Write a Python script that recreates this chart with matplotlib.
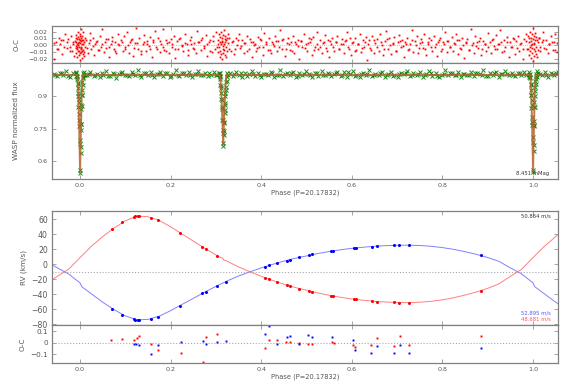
import numpy as np
import matplotlib
matplotlib.use('Agg')
import matplotlib.pyplot as plt

# ---- light curve residuals (O-C), phase / residual flux ----
oc_phase = [
    -0.058, -0.054, -0.051, -0.047, -0.044, -0.040, -0.037, -0.033, -0.029, -0.026,
    -0.023, -0.020, -0.017, -0.015, -0.013, 0.014, 0.017, 0.019, 0.022, 0.025,
    0.028, 0.031, 0.034, 0.037, 0.040, 0.043, 0.046, 0.049, 0.052, 0.055,
    0.058, 0.061, 0.064, 0.068, 0.071, 0.074, 0.077, 0.080, 0.084, 0.087,
    0.090, 0.094, 0.097, 0.100, 0.104, 0.107, 0.110, 0.114, 0.117, 0.121,
    0.124, 0.128, 0.131, 0.134, 0.138, 0.141, 0.145, 0.148, 0.152, 0.155,
    0.159, 0.162, 0.165, 0.169, 0.172, 0.176, 0.179, 0.183, 0.186, 0.190,
    0.193, 0.196, 0.200, 0.203, 0.207, 0.210, 0.214, 0.217, 0.221, 0.224,
    0.228, 0.231, 0.235, 0.238, 0.242, 0.245, 0.249, 0.252, 0.256, 0.259,
    0.263, 0.266, 0.270, 0.273, 0.277, 0.280, 0.284, 0.287, 0.291, 0.294,
    0.298, 0.301, 0.305, 0.333, 0.337, 0.340, 0.344, 0.347, 0.351, 0.354,
    0.358, 0.361, 0.365, 0.368, 0.372, 0.375, 0.379, 0.382, 0.386, 0.389,
    0.393, 0.396, 0.400, 0.403, 0.407, 0.410, 0.414, 0.417, 0.421, 0.424,
    0.428, 0.431, 0.435, 0.438, 0.442, 0.445, 0.449, 0.452, 0.456, 0.459,
    0.463, 0.466, 0.470, 0.473, 0.477, 0.480, 0.484, 0.487, 0.491, 0.494,
    0.498, 0.501, 0.505, 0.508, 0.512, 0.515, 0.519, 0.522, 0.526, 0.529,
    0.533, 0.536, 0.540, 0.543, 0.547, 0.550, 0.554, 0.557, 0.561, 0.564,
    0.568, 0.571, 0.575, 0.578, 0.582, 0.585, 0.589, 0.592, 0.596, 0.599,
    0.603, 0.606, 0.610, 0.613, 0.617, 0.620, 0.624, 0.627, 0.631, 0.634,
    0.638, 0.641, 0.645, 0.648, 0.652, 0.655, 0.659, 0.662, 0.666, 0.669,
    0.673, 0.676, 0.680, 0.683, 0.687, 0.690, 0.694, 0.697, 0.701, 0.704,
    0.708, 0.711, 0.715, 0.718, 0.722, 0.725, 0.729, 0.732, 0.736, 0.739,
    0.743, 0.746, 0.750, 0.753, 0.757, 0.760, 0.764, 0.767, 0.771, 0.774,
    0.778, 0.781, 0.785, 0.788, 0.792, 0.795, 0.799, 0.802, 0.806, 0.809,
    0.813, 0.816, 0.820, 0.823, 0.827, 0.830, 0.834, 0.837, 0.841, 0.844,
    0.848, 0.851, 0.855, 0.858, 0.862, 0.865, 0.869, 0.872, 0.876, 0.879,
    0.883, 0.886, 0.890, 0.893, 0.897, 0.900, 0.904, 0.907, 0.911, 0.914,
    0.918, 0.921, 0.925, 0.928, 0.932, 0.935, 0.939, 0.942, 0.946, 0.949,
    0.953, 0.956, 0.960, 0.963, 0.967, 0.970, 0.974, 0.977, 0.981, 0.984,
    0.987, 1.013, 1.016, 1.019, 1.022, 1.025, 1.029, 1.032, 1.036, 1.040,
    1.043, 1.046, 1.049, 1.052,
]
oc_resid = [
    -0.021, 0.004, -0.006, 0.011, 0.002, -0.013, 0.007, 0.016, -0.004, 0.009,
    -0.002, 0.013, -0.009, 0.005, -0.016, 0.008, -0.011, 0.003, 0.018, -0.005,
    0.010, -0.014, 0.001, 0.006, -0.007, 0.014, -0.002, 0.024, -0.010, 0.004,
    -0.004, 0.009, -0.018, 0.002, 0.012, -0.006, 0.005, -0.012, 0.017, 0.000,
    0.007, -0.008, 0.013, -0.003, 0.020, -0.011, 0.004, 0.009, -0.016, 0.003,
    0.025, -0.006, 0.011, -0.013, 0.002, 0.015, -0.009, 0.006, -0.001, 0.012,
    -0.017, 0.004, 0.021, -0.005, 0.010, -0.010, 0.001, 0.024, -0.007, 0.008,
    0.003, -0.012, 0.009, -0.002, 0.014, -0.019, 0.006, -0.006, 0.011, 0.000,
    -0.009, 0.017, 0.002, -0.014, 0.007, 0.012, -0.004, 0.003, -0.011, 0.021,
    0.005, -0.007, 0.010, -0.001, 0.015, -0.016, 0.004, 0.008, -0.010, 0.013,
    -0.005, 0.019, 0.002, -0.008, 0.006, -0.013, 0.011, 0.000, 0.016, -0.004,
    0.008, -0.011, 0.003, 0.013, -0.006, 0.009, -0.018, 0.004, 0.001, -0.009,
    0.012, -0.003, 0.007, -0.014, 0.018, 0.002, -0.007, 0.010, -0.012, 0.005,
    -0.001, 0.014, -0.009, 0.006, 0.023, -0.005, 0.009, -0.016, 0.003, 0.011,
    -0.007, 0.004, 0.013, -0.011, 0.001, 0.008, -0.020, 0.006, -0.003, 0.016,
    0.002, -0.009, 0.010, 0.005, -0.014, 0.012, -0.002, 0.019, -0.006, 0.007,
    -0.011, 0.003, 0.015, -0.004, 0.008, -0.017, 0.001, 0.011, -0.008, 0.004,
    0.013, -0.006, 0.002, 0.009, -0.012, 0.006, 0.020, -0.003, 0.010, -0.015,
    0.004, 0.011, -0.007, 0.001, 0.016, -0.010, 0.007, -0.002, 0.012, -0.022,
    0.008, -0.004, 0.014, -0.012, 0.003, 0.009, -0.008, 0.017, 0.000, -0.015,
    0.006, 0.021, -0.005, 0.010, -0.013, 0.002, 0.012, -0.009, 0.005, 0.015,
    -0.003, 0.008, -0.018, 0.004, 0.011, -0.007, 0.001, 0.023, -0.010, 0.006,
    0.013, -0.011, 0.003, 0.009, -0.004, 0.017, -0.014, 0.005, 0.010, -0.002,
    -0.008, 0.014, 0.002, -0.016, 0.007, 0.011, -0.005, 0.004, 0.020, -0.010,
    0.006, -0.003, 0.012, -0.009, 0.001, 0.016, -0.013, 0.008, -0.006, 0.010,
    -0.019, 0.003, 0.009, -0.007, 0.024, 0.000, -0.011, 0.013, 0.005, -0.004,
    0.011, -0.015, 0.006, 0.002, -0.008, 0.018, 0.004, -0.012, 0.009, -0.001,
    0.015, -0.006, 0.001, 0.022, -0.010, 0.007, -0.003, 0.012, -0.017, 0.005,
    -0.002, 0.010, -0.013, 0.006, 0.014, -0.008, 0.003, -0.021, 0.009, 0.016,
    -0.006, 0.011, -0.009, 0.004, 0.019, -0.004, 0.008, -0.012, 0.002, 0.013,
    -0.007, 0.005, 0.016, -0.010,
]
# a second, tighter layer of residuals around zero
oc2_phase = [
    -0.0565, -0.0495, -0.0425, -0.0355, -0.0285, -0.0215, -0.0145, 0.0155, 0.0215, 0.0285,
    0.0355, 0.0425, 0.0495, 0.0565, 0.0635, 0.0705, 0.0775, 0.0845, 0.0915, 0.0985,
    0.1055, 0.1125, 0.1195, 0.1265, 0.1335, 0.1405, 0.1475, 0.1545, 0.1615, 0.1685,
    0.1755, 0.1825, 0.1895, 0.1965, 0.2035, 0.2105, 0.2175, 0.2245, 0.2315, 0.2385,
    0.2455, 0.2525, 0.2595, 0.2665, 0.2735, 0.2805, 0.2875, 0.2945, 0.3015, 0.3345,
    0.3415, 0.3485, 0.3555, 0.3625, 0.3695, 0.3765, 0.3835, 0.3905, 0.3975, 0.4045,
    0.4115, 0.4185, 0.4255, 0.4325, 0.4395, 0.4465, 0.4535, 0.4605, 0.4675, 0.4745,
    0.4815, 0.4885, 0.4955, 0.5025, 0.5095, 0.5165, 0.5235, 0.5305, 0.5375, 0.5445,
    0.5515, 0.5585, 0.5655, 0.5725, 0.5795, 0.5865, 0.5935, 0.6005, 0.6075, 0.6145,
    0.6215, 0.6285, 0.6355, 0.6425, 0.6495, 0.6565, 0.6635, 0.6705, 0.6775, 0.6845,
    0.6915, 0.6985, 0.7055, 0.7125, 0.7195, 0.7265, 0.7335, 0.7405, 0.7475, 0.7545,
    0.7615, 0.7685, 0.7755, 0.7825, 0.7895, 0.7965, 0.8035, 0.8105, 0.8175, 0.8245,
    0.8315, 0.8385, 0.8455, 0.8525, 0.8595, 0.8665, 0.8735, 0.8805, 0.8875, 0.8945,
    0.9015, 0.9085, 0.9155, 0.9225, 0.9295, 0.9365, 0.9435, 0.9505, 0.9575, 0.9645,
    0.9715, 0.9785, 0.9855, 1.0145, 1.0215, 1.0285, 1.0355, 1.0425, 1.0495, 1.0535,
]
oc2_resid = [
    0.003, -0.006, 0.008, -0.002, 0.005, -0.009, 0.001, -0.004, 0.007, -0.001,
    0.004, -0.007, 0.002, 0.009, -0.003, 0.006, -0.008, 0.001, 0.005, -0.005,
    0.000, 0.007, -0.004, 0.003, -0.009, 0.005, 0.002, -0.006, 0.008, -0.002,
    0.006, -0.003, -0.008, 0.004, 0.001, -0.005, 0.009, -0.001, 0.003, -0.007,
    0.002, -0.006, 0.005, 0.008, -0.004, 0.001, -0.009, 0.006, -0.002, 0.004,
    -0.005, 0.007, -0.001, 0.003, -0.008, 0.005, 0.000, -0.004, 0.009, -0.002,
    0.004, -0.007, 0.002, 0.006, -0.003, 0.008, -0.006, 0.001, -0.009, 0.005,
    -0.001, 0.006, -0.004, 0.003, 0.009, -0.007, 0.002, -0.003, 0.005, -0.008,
    0.006, -0.002, 0.004, -0.006, 0.001, 0.008, -0.005, 0.003, -0.009, 0.002,
    -0.004, 0.005, 0.001, -0.007, 0.007, -0.002, 0.004, -0.005, 0.009, 0.000,
    0.003, -0.008, 0.006, -0.001, 0.002, -0.005, 0.008, 0.000, -0.004, 0.005,
    -0.006, 0.002, 0.007, -0.003, 0.004, -0.009, 0.001, 0.006, -0.002, 0.003,
    0.008, -0.004, 0.000, 0.005, -0.007, 0.003, -0.001, 0.006, -0.005, 0.002,
    -0.003, 0.007, -0.006, 0.001, 0.004, -0.008, 0.005, -0.002, 0.009, -0.004,
    0.001, -0.005, 0.006, -0.003, 0.008, -0.006, 0.002, 0.004, -0.007, 0.003,
]
# dense coverage during the eclipses
ecl_oc_phase = [
    -0.011, -0.010, -0.009, -0.008, -0.007, -0.007, -0.006, -0.005, -0.005, -0.004,
    -0.003, -0.003, -0.002, -0.001, 0.000, 0.000, 0.001, 0.002, 0.002, 0.003,
    0.004, 0.004, 0.005, 0.006, 0.006, 0.007, 0.008, 0.009, 0.010, 0.011,
    -0.010, -0.008, -0.006, -0.004, -0.002, -0.001, 0.001, 0.003, 0.005, 0.007,
    -0.009, -0.007, -0.005, -0.003, -0.001, 0.000, 0.002, 0.004, 0.006, 0.008,
    0.304, 0.305, 0.306, 0.307, 0.308, 0.309, 0.310, 0.310, 0.311, 0.312,
    0.312, 0.313, 0.314, 0.314, 0.315, 0.316, 0.316, 0.317, 0.318, 0.318,
    0.319, 0.320, 0.320, 0.321, 0.322, 0.322, 0.323, 0.324, 0.325, 0.326,
    0.327, 0.328, 0.329, 0.316, 0.313,
    0.988, 0.989, 0.990, 0.991, 0.992, 0.993, 0.993, 0.994, 0.995, 0.995,
    0.996, 0.997, 0.997, 0.998, 0.999, 1.000, 1.000, 1.001, 1.002, 1.002,
    1.003, 1.004, 1.004, 1.005, 1.006, 1.006, 1.007, 1.008, 1.009, 1.010,
    1.011, 1.012, 0.998, 1.001, 0.996,
]
ecl_oc_resid = [
    0.006, -0.012, 0.015, -0.004, 0.009, -0.018, 0.002, 0.012, -0.008, 0.020,
    -0.015, 0.005, -0.002, 0.017, -0.022, 0.008, -0.010, 0.024, -0.005, 0.011,
    -0.019, 0.001, 0.014, -0.007, 0.019, -0.013, 0.004, -0.016, 0.010, -0.003,
    -0.001, 0.011, -0.006, 0.003, 0.009, -0.011, 0.006, -0.003, -0.009, 0.007,
    0.004, -0.002, 0.000, -0.008, 0.003, 0.013, -0.004, 0.008, 0.002, -0.010,
    0.008, -0.010, 0.016, -0.003, 0.012, -0.017, 0.004, -0.008, 0.019, -0.013,
    0.002, 0.010, -0.020, 0.006, -0.005, 0.015, -0.011, 0.001, 0.022, -0.007,
    0.009, -0.015, 0.004, 0.013, -0.002, -0.018, 0.007, 0.011, -0.009, 0.003,
    0.017, -0.006, 0.010, -0.001, 0.005,
    -0.005, 0.013, -0.014, 0.004, 0.010, -0.008, 0.020, -0.002, 0.011, -0.019,
    0.006, -0.011, 0.016, 0.001, -0.023, 0.009, 0.025, -0.006, 0.014, -0.016,
    0.003, 0.018, -0.009, 0.007, -0.013, 0.012, -0.003, 0.008, -0.017, 0.005,
    -0.007, 0.011, -0.004, 0.002, 0.000,
]

# ---- WASP photometry (green crosses) ----
lc_phase = [
    -0.058, -0.051, -0.044, -0.037, -0.030, -0.023, -0.016, 0.016, 0.023, 0.030,
    0.037, 0.044, 0.051, 0.058, 0.065, 0.072, 0.079, 0.086, 0.093, 0.100,
    0.107, 0.114, 0.121, 0.128, 0.135, 0.142, 0.149, 0.156, 0.163, 0.170,
    0.177, 0.184, 0.191, 0.198, 0.205, 0.212, 0.219, 0.226, 0.233, 0.240,
    0.247, 0.254, 0.261, 0.268, 0.275, 0.282, 0.289, 0.296, 0.303, 0.330,
    0.337, 0.344, 0.351, 0.358, 0.365, 0.372, 0.379, 0.386, 0.393, 0.400,
    0.407, 0.414, 0.421, 0.428, 0.435, 0.442, 0.449, 0.456, 0.463, 0.470,
    0.477, 0.484, 0.491, 0.498, 0.505, 0.512, 0.519, 0.526, 0.533, 0.540,
    0.547, 0.554, 0.561, 0.568, 0.575, 0.582, 0.589, 0.596, 0.603, 0.610,
    0.617, 0.624, 0.631, 0.638, 0.645, 0.652, 0.659, 0.666, 0.673, 0.680,
    0.687, 0.694, 0.701, 0.708, 0.715, 0.722, 0.729, 0.736, 0.743, 0.750,
    0.757, 0.764, 0.771, 0.778, 0.785, 0.792, 0.799, 0.806, 0.813, 0.820,
    0.827, 0.834, 0.841, 0.848, 0.855, 0.862, 0.869, 0.876, 0.883, 0.890,
    0.897, 0.904, 0.911, 0.918, 0.925, 0.932, 0.939, 0.946, 0.953, 0.960,
    0.967, 0.974, 0.981, 1.019, 1.026, 1.033, 1.040, 1.047, 1.054, 0.309,
    -0.0545, -0.0405, -0.0265, 0.0195, 0.0335, 0.0475, 0.0615, 0.0755, 0.0895, 0.1035,
    0.1175, 0.1315, 0.1455, 0.1595, 0.1735, 0.1875, 0.2015, 0.2155, 0.2295, 0.2435,
    0.2575, 0.2715, 0.2855, 0.2995, 0.3405, 0.3545, 0.3685, 0.3825, 0.3965, 0.4105,
    0.4245, 0.4385, 0.4525, 0.4665, 0.4805, 0.4945, 0.5085, 0.5225, 0.5365, 0.5505,
    0.5645, 0.5785, 0.5925, 0.6065, 0.6205, 0.6345, 0.6485, 0.6625, 0.6765, 0.6905,
    0.7045, 0.7185, 0.7325, 0.7465, 0.7605, 0.7745, 0.7885, 0.8025, 0.8165, 0.8305,
    0.8445, 0.8585, 0.8725, 0.8865, 0.9005, 0.9145, 0.9285, 0.9425, 0.9565, 0.9705,
    0.9845, 1.0155, 1.0295, 1.0435, 1.0505,
    # primary eclipse
    -0.010, -0.009, -0.008, -0.007, -0.006, -0.005, -0.004, -0.004, -0.003, -0.003,
    -0.002, -0.002, -0.001, -0.001, 0.000, 0.000, 0.001, 0.001, 0.002, 0.002,
    0.003, 0.003, 0.004, 0.004, 0.005, 0.006, 0.007, 0.008, 0.009, 0.010,
    -0.0065, -0.0055, -0.0045, -0.0035, -0.0025, 0.0025, 0.0035, 0.0045, 0.0055, 0.0065,
    # secondary eclipse
    0.306, 0.307, 0.308, 0.309, 0.310, 0.311, 0.311, 0.312, 0.313, 0.313,
    0.314, 0.315, 0.315, 0.316, 0.316, 0.317, 0.317, 0.318, 0.319, 0.319,
    0.320, 0.321, 0.321, 0.322, 0.323, 0.324, 0.325, 0.326,
    0.3085, 0.3105, 0.3125, 0.3145, 0.3175, 0.3195, 0.3215, 0.3235,
    # primary eclipse again at phase 1
    0.990, 0.991, 0.992, 0.993, 0.994, 0.995, 0.996, 0.996, 0.997, 0.997,
    0.998, 0.998, 0.999, 0.999, 1.000, 1.000, 1.001, 1.001, 1.002, 1.002,
    1.003, 1.003, 1.004, 1.004, 1.005, 1.006, 1.007, 1.008, 1.009, 1.010,
    0.9935, 0.9945, 0.9955, 0.9965, 0.9975, 1.0025, 1.0035, 1.0045, 1.0055, 1.0065,
]
lc_flux = [
    0.998, 0.989, 1.006, 0.993, 1.012, 0.985, 1.003, 0.996, 1.009, 0.991,
    1.001, 0.987, 0.997, 1.014, 0.992, 1.004, 0.983, 0.999, 1.008, 0.994,
    0.990, 1.011, 0.996, 1.020, 0.988, 1.002, 0.993, 1.007, 0.985, 0.999,
    1.010, 0.992, 1.004, 0.986, 0.998, 1.016, 0.991, 1.003, 0.995, 1.008,
    0.984, 1.000, 1.013, 0.993, 1.005, 0.989, 0.997, 1.011, 0.994, 1.002,
    0.990, 1.008, 0.996, 0.985, 1.003, 0.999, 1.015, 0.992, 1.006, 0.988,
    1.001, 0.994, 1.010, 0.986, 0.997, 1.018, 0.991, 1.004, 0.995, 1.009,
    0.987, 1.002, 0.993, 1.012, 0.998, 0.984, 1.006, 0.991, 1.015, 0.996,
    1.004, 0.989, 1.000, 1.011, 0.992, 1.007, 0.985, 0.998, 1.013, 0.994,
    0.988, 1.005, 0.996, 1.019, 0.990, 1.001, 0.993, 1.009, 0.986, 0.999,
    1.010, 0.995, 0.987, 1.004, 0.998, 1.014, 0.990, 1.002, 0.994, 1.008,
    0.985, 1.000, 1.012, 0.992, 1.005, 0.988, 0.997, 1.016, 0.993, 1.003,
    0.996, 1.009, 0.986, 1.001, 0.994, 1.011, 0.990, 1.004, 0.998, 1.017,
    0.991, 1.003, 0.995, 1.008, 0.984, 0.999, 1.012, 0.993, 1.006, 0.989,
    1.002, 0.994, 1.010, 0.997, 1.007, 0.988, 1.003, 0.995, 1.011, 1.004,
    0.996, 1.002, 0.992, 1.000, 0.995, 1.004, 0.991, 0.998, 1.003, 0.994,
    1.001, 0.997, 1.006, 0.993, 0.999, 1.002, 0.990, 0.997, 1.005, 0.995,
    1.000, 0.993, 1.003, 0.996, 0.998, 1.004, 0.992, 1.001, 0.995, 0.999,
    1.006, 0.994, 0.998, 1.002, 0.991, 1.000, 0.996, 1.004, 0.993, 0.999,
    1.002, 0.995, 1.007, 0.992, 0.998, 1.001, 0.994, 1.003, 0.997, 0.990,
    0.999, 1.005, 0.993, 1.000, 0.996, 1.002, 0.991, 0.998, 1.004, 0.995,
    1.001, 0.994, 1.006, 0.997, 0.992, 1.003, 0.998, 1.000, 0.995, 1.002,
    0.996, 1.001, 0.993, 0.999, 1.004,
    1.003, 0.992, 1.008, 0.985, 0.990, 0.960, 0.915, 0.935, 0.870, 0.885,
    0.790, 0.815, 0.700, 0.680, 0.560, 0.548, 0.640, 0.665, 0.770, 0.745,
    0.860, 0.840, 0.925, 0.905, 0.965, 0.985, 1.005, 0.994, 1.010, 0.997,
    0.975, 0.955, 0.900, 0.850, 0.760, 0.770, 0.855, 0.905, 0.950, 0.980,
    0.998, 1.006, 0.989, 0.975, 0.950, 0.935, 0.915, 0.885, 0.850, 0.840,
    0.790, 0.745, 0.730, 0.685, 0.672, 0.720, 0.740, 0.780, 0.820, 0.835,
    0.865, 0.900, 0.915, 0.940, 0.965, 0.987, 1.004, 0.993,
    0.985, 0.945, 0.880, 0.790, 0.775, 0.860, 0.925, 0.970,
    0.995, 1.009, 0.987, 1.001, 0.983, 0.955, 0.928, 0.905, 0.880, 0.860,
    0.805, 0.780, 0.690, 0.710, 0.550, 0.562, 0.650, 0.675, 0.760, 0.785,
    0.850, 0.870, 0.920, 0.940, 0.970, 0.990, 0.998, 1.012, 0.988, 1.004,
    0.985, 0.950, 0.905, 0.845, 0.765, 0.765, 0.850, 0.900, 0.955, 0.975,
]

# ---- light curve model ----
lc_model_phase = [-0.065, -0.006, -0.004, -0.002, 0.0, 0.002, 0.004, 0.006,
                  0.309, 0.3115, 0.314, 0.316, 0.318, 0.3205, 0.323,
                  0.994, 0.996, 0.998, 1.0, 1.002, 1.004, 1.006, 1.065]
lc_model_flux = [0.995, 0.995, 0.93, 0.76, 0.555, 0.76, 0.93, 0.995,
                 0.995, 0.93, 0.80, 0.68, 0.80, 0.93, 0.995,
                 0.995, 0.93, 0.76, 0.555, 0.76, 0.93, 0.995, 0.995]

# ---- radial velocities (km/s) ----
rv_red_phase = [0.070, 0.093, 0.118, 0.122, 0.127, 0.131, 0.157, 0.173, 0.221, 0.270,
                0.278, 0.303, 0.408, 0.417, 0.435, 0.456, 0.464, 0.483, 0.506, 0.512,
                0.554, 0.559, 0.604, 0.609, 0.644, 0.655, 0.692, 0.705, 0.726, 0.886]
rv_red = [46.7, 56.4, 63.5, 64.2, 64.6, 64.6, 62.0, 59.0, 41.7, 23.0,
          20.4, 11.5, -17.8, -20.0, -23.6, -27.6, -28.9, -32.5, -35.6, -36.5,
          -41.8, -42.3, -46.3, -46.7, -49.4, -49.9, -50.8, -51.0, -51.2, -36.0]
rv_blue_phase = [0.070, 0.093, 0.118, 0.122, 0.127, 0.131, 0.157, 0.173, 0.221, 0.270,
                 0.278, 0.303, 0.322, 0.408, 0.417, 0.435, 0.456, 0.464, 0.483, 0.506,
                 0.512, 0.554, 0.559, 0.604, 0.609, 0.644, 0.655, 0.692, 0.705, 0.726,
                 0.886]
rv_blue = [-59.2, -68.0, -73.3, -74.0, -74.5, -74.7, -73.0, -69.9, -55.2, -38.7,
           -36.5, -29.0, -23.6, -3.2, -0.9, 1.7, 4.8, 6.1, 9.3, 12.0,
           13.3, 17.3, 17.7, 21.3, 21.3, 23.5, 24.0, 25.3, 25.3, 25.3,
           12.4]

rv_red_model_phase = [-0.075, -0.05, -0.025, 0.0, 0.025, 0.05, 0.075, 0.1, 0.125, 0.15,
                      0.175, 0.2, 0.225, 0.25, 0.275, 0.3, 0.312, 0.314, 0.316, 0.318,
                      0.32, 0.325, 0.35, 0.375, 0.4, 0.425, 0.45, 0.475, 0.5, 0.525,
                      0.55, 0.575, 0.6, 0.625, 0.65, 0.675, 0.7, 0.725, 0.75, 0.775,
                      0.8, 0.825, 0.85, 0.875, 0.9, 0.925, 0.95, 0.975, 1.0, 1.025,
                      1.05, 1.075]
rv_red_model = [-26.0, -16.0, -6.5, 9.0, 24.0, 37.0, 48.5, 58.0, 64.3, 63.5,
                58.5, 50.0, 40.5, 31.0, 21.5, 12.5, 8.4, 8.8, 7.0, 5.0,
                5.5, 4.0, -3.5, -10.0, -16.0, -21.5, -26.5, -31.0, -34.5, -38.2,
                -41.3, -44.0, -46.2, -48.0, -49.5, -50.4, -50.9, -51.1, -50.6, -49.4,
                -47.4, -44.6, -41.0, -37.0, -32.0, -26.0, -16.0, -6.5, 9.0, 24.0,
                37.0, 48.5]
rv_blue_model_phase = [-0.075, -0.05, -0.025, -0.004, 0.0, 0.004, 0.025, 0.05, 0.075, 0.1,
                       0.125, 0.15, 0.175, 0.2, 0.225, 0.25, 0.275, 0.3, 0.325, 0.35,
                       0.375, 0.4, 0.425, 0.45, 0.475, 0.5, 0.525, 0.55, 0.575, 0.6,
                       0.625, 0.65, 0.675, 0.7, 0.725, 0.75, 0.775, 0.8, 0.825, 0.85,
                       0.875, 0.9, 0.925, 0.95, 0.975, 0.996, 1.0, 1.004, 1.025, 1.05,
                       1.075]
rv_blue_model = [3.8, -4.8, -13.0, -23.0, -25.0, -30.0, -39.4, -50.6, -60.5, -68.8,
                 -74.2, -73.5, -69.2, -61.8, -53.6, -45.4, -37.2, -29.4, -22.1, -15.6,
                 -10.0, -4.8, -0.1, 4.3, 8.1, 11.2, 14.4, 17.0, 19.4, 21.3,
                 22.8, 24.1, 24.9, 25.3, 25.5, 25.1, 24.0, 22.3, 19.9, 16.8,
                 13.3, 9.0, 3.8, -4.8, -13.0, -23.0, -25.0, -30.0, -39.4, -50.6,
                 -60.5]
gamma = -10.0

# RV residuals (km/s)
rvoc_red_phase = [0.069, 0.093, 0.118, 0.125, 0.131, 0.156, 0.173, 0.223, 0.271, 0.278,
                  0.302, 0.408, 0.417, 0.434, 0.454, 0.464, 0.483, 0.504, 0.512, 0.556,
                  0.561, 0.603, 0.608, 0.642, 0.656, 0.692, 0.706, 0.726, 0.886]
rvoc_red = [0.020, 0.032, 0.020, 0.041, 0.058, -0.009, -0.067, -0.090, -0.165, 0.050,
            0.072, -0.043, 0.020, 0.020, 0.006, 0.006, -0.003, -0.014, -0.014, 0.009,
            -0.003, -0.020, -0.037, -0.017, 0.040, -0.029, 0.055, -0.020, 0.061]
rvoc_blue_phase = [0.118, 0.123, 0.131, 0.156, 0.173, 0.223, 0.271, 0.278, 0.302, 0.322,
                   0.408, 0.417, 0.434, 0.456, 0.464, 0.483, 0.504, 0.512, 0.556, 0.603,
                   0.608, 0.642, 0.656, 0.692, 0.706, 0.726, 0.886]
rvoc_blue = [-0.009, -0.012, -0.017, -0.100, -0.023, 0.003, 0.017, -0.009, 0.003, 0.017,
             0.075, 0.142, -0.009, 0.052, 0.058, -0.012, 0.064, 0.046, 0.046, 0.026,
             -0.064, -0.090, -0.032, -0.093, -0.020, -0.087, -0.050]

xticks = [0.0, 0.2, 0.4, 0.6, 0.8, 1.0]
xlabel = 'Phase (P=20.17832)'

# ---------------------------------------------------------------
grey = '#808080'
tick_col = '#555555'
fs = 4.6

fig = plt.figure(figsize=(5.75, 3.82), dpi=100)
left, width = 0.0904, 0.880
ax_oc = fig.add_axes([left, 0.8351, width, 0.0969])
ax_lc = fig.add_axes([left, 0.5314, width, 0.3037], sharex=ax_oc)
ax_rv = fig.add_axes([left, 0.1492, width, 0.2992])
ax_rvoc = fig.add_axes([left, 0.0497, width, 0.0995], sharex=ax_rv)

for ax in (ax_oc, ax_lc, ax_rv, ax_rvoc):
    for s in ax.spines.values():
        s.set_color(grey)
        s.set_linewidth(0.9)
    ax.tick_params(direction='in', length=3, width=0.5, color=grey,
                   labelcolor=tick_col, labelsize=fs, top=True, right=True, pad=3)
    ax.set_xlim(-0.062, 1.055)
    ax.set_xticks(xticks)

# top residual panel
ax_oc.axhline(0, color='#aaaaaa', lw=0.6, ls=':')
ax_oc.plot(oc_phase, oc_resid, 's', color='red', ms=1.3, mew=0)
ax_oc.plot(oc2_phase, oc2_resid, 's', color='red', ms=1.3, mew=0)
ax_oc.plot(ecl_oc_phase, ecl_oc_resid, 's', color='red', ms=1.3, mew=0)
ax_oc.set_ylim(-0.0265, 0.0285)
ax_oc.set_yticks([-0.02, -0.01, 0.0, 0.01, 0.02])
ax_oc.set_yticklabels(['\u22120.02', '\u22120.01', '0.00', '0.01', '0.02'])
ax_oc.set_ylabel('O-C', fontsize=fs + 0.4, color=tick_col, labelpad=6)
plt.setp(ax_oc.get_xticklabels(), visible=False)

# light curve
ax_lc.plot(lc_phase, lc_flux, 'x', color='green', ms=3.0, mew=0.7, alpha=0.9)
ax_lc.plot(lc_model_phase, lc_model_flux, '-', color='#b8602a', lw=1.4, alpha=0.85)
ax_lc.set_ylim(0.52, 1.05)
ax_lc.set_yticks([0.6, 0.75, 0.9])
ax_lc.set_yticklabels(['0.6', '0.75', '0.9'])
ax_lc.set_ylabel('WASP normalized flux', fontsize=fs + 0.6, color=tick_col, labelpad=11)
ax_lc.set_xlabel(xlabel, fontsize=fs + 0.2, color=tick_col, labelpad=1)
ax_lc.text(0.982, 0.025, '8.451 mMag', transform=ax_lc.transAxes, ha='right',
           va='bottom', fontsize=3.8, color='#333333')

# radial velocities
ax_rv.axhline(gamma, color='#aaaaaa', lw=0.8, ls=':')
ax_rv.plot(rv_red_model_phase, rv_red_model, '-', color='#ff8080', lw=0.7)
ax_rv.plot(rv_blue_model_phase, rv_blue_model, '-', color='#8080ff', lw=0.7)
ax_rv.plot(rv_red_phase, rv_red, 'o', color='red', ms=2.2, mew=0)
ax_rv.plot(rv_blue_phase, rv_blue, 'o', color='blue', ms=2.2, mew=0)
ax_rv.set_ylim(-81, 71.5)
ax_rv.set_yticks([-80, -60, -40, -20, 0, 20, 40, 60])
ax_rv.set_yticklabels(['\u221280', '\u221260', '\u221240', '\u221220', '0', '20', '40', '60'])
ax_rv.tick_params(axis='y', labelsize=5.6)
ax_rv.set_ylabel('RV (km/s)', fontsize=fs + 0.6, color=tick_col, labelpad=3)
plt.setp(ax_rv.get_xticklabels(), visible=False)
ax_rv.text(0.986, 0.975, '50.864 m/s', transform=ax_rv.transAxes, ha='right',
           va='top', fontsize=3.8, color='#333333')
ax_rv.text(0.986, 0.108, '52.895 m/s', transform=ax_rv.transAxes, ha='right',
           va='center', fontsize=3.8, color='#5555ff')
ax_rv.text(0.986, 0.05, '48.681 m/s', transform=ax_rv.transAxes, ha='right',
           va='center', fontsize=3.8, color='#ff5555')

# RV residuals
ax_rvoc.axhline(0, color='#aaaaaa', lw=0.8, ls=':')
ax_rvoc.plot(rvoc_red_phase, rvoc_red, 's', color='red', ms=1.4, mew=0)
ax_rvoc.plot(rvoc_blue_phase, rvoc_blue, 's', color='blue', ms=1.4, mew=0)
ax_rvoc.set_ylim(-0.176, 0.152)
ax_rvoc.set_yticks([-0.1, 0.0, 0.1])
ax_rvoc.set_yticklabels(['\u22120.1', '0', '0.1'])
ax_rvoc.tick_params(axis='y', labelsize=5.2)
ax_rvoc.set_ylabel('O-C', fontsize=fs + 0.6, color=tick_col, labelpad=3)
ax_rvoc.set_xlabel(xlabel, fontsize=fs + 0.2, color=tick_col, labelpad=1)

fig.savefig('out.png', dpi=100)
